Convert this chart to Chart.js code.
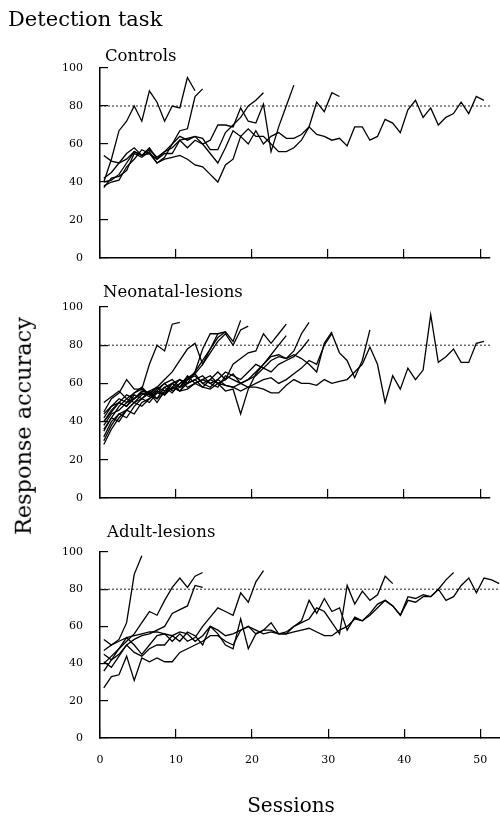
<!DOCTYPE html>
<html>
<head>
<meta charset="utf-8">
<script src="https://cdn.jsdelivr.net/npm/chart.js@4.4.1/dist/chart.umd.min.js"></script>
<style>
  body { margin: 0; background: #fff; }
  #wrap { position: relative; width: 500px; height: 818px; font-family: "DejaVu Serif", serif; color: #000; overflow: hidden; }
  canvas { position: absolute; left: 0; top: 0; }
  .t { position: absolute; white-space: nowrap; line-height: 1; }
</style>
</head>
<body>
<div id="wrap">
  <canvas id="controls" width="500" height="818"></canvas>
  <canvas id="neonatal" width="500" height="818"></canvas>
  <canvas id="adult" width="500" height="818"></canvas>

  <div class="t" style="left:8px;top:9px;font-size:21px">Detection task</div>
  <div class="t" style="left:105px;top:48px;font-size:16.5px">Controls</div>
  <div class="t" style="left:103px;top:284px;font-size:16.5px">Neonatal-lesions</div>
  <div class="t" style="left:107px;top:524px;font-size:16.5px">Adult-lesions</div>
  <div class="t" style="left:23px;top:426px;font-size:22.4px;transform:translate(-50%,-50%) rotate(-90deg)">Response accuracy</div>
  <div class="t" style="left:291px;top:805px;font-size:20px;transform:translate(-50%,-50%)">Sessions</div>
</div>

<script>
// each array = accuracy (%) per session for one animal, first value at session 0.5
const SESSION_OFFSET = 0.5;
const CRITERION = 80;

// Controls
const ctrlA = [40, 52, 67, 72, 80, 72, 88, 82, 72, 80, 79, 95, 88];
const ctrlB = [37, 42, 43, 46, 55, 53, 56, 50, 53, 60, 67, 68, 85, 89];
const ctrlC = [38, 40, 41, 48, 52, 57, 55, 52, 56, 60, 64, 62, 64, 63, 57, 57, 66, 70, 74, 80, 83, 87];
const ctrlD = [40, 41, 44, 50, 56, 54, 58, 52, 55, 55, 62, 58, 62, 60, 62, 70, 70, 69, 79, 72, 71, 81, 56, 69, 80, 91];
const ctrlE = [42, 45, 50, 55, 58, 54, 57, 53, 56, 58, 62, 63, 64, 60, 55, 50, 58, 67, 64, 68,
               64, 64, 60, 56, 56, 58, 62, 69, 82, 77, 87, 85];
const ctrlF = [54, 51, 50, 52, 56, 54, 55, 50, 52, 53, 54, 52, 49, 48, 44, 40, 49, 52, 64, 60,
               67, 60, 64, 66, 63, 63, 65, 69, 65, 64, 62, 63, 59, 69, 69, 62, 64, 73, 71, 66,
               78, 83, 74, 79, 70, 74, 76, 82, 76, 85, 83];

// Neonatal-lesions
const neoA = [45, 52, 55, 62, 57, 57, 70, 80, 77, 91, 92];
const neoB = [35, 42, 40, 46, 50, 52, 50, 55, 58, 55, 60, 62, 66, 78, 86, 86, 87, 82, 93];
const neoC = [30, 38, 44, 42, 48, 52, 55, 50, 56, 57, 60, 63, 65, 70, 76, 82, 86, 80, 88, 90];
const neoD = [40, 46, 50, 48, 54, 52, 56, 58, 54, 60, 58, 62, 64, 60, 62, 66, 62, 70, 73, 76, 77, 86, 81, 86, 91];
const neoE = [38, 44, 46, 50, 52, 55, 53, 57, 60, 56, 58, 60, 62, 58, 62, 60, 56, 57, 44, 57, 65, 70, 75, 80, 85];
const neoF = [42, 48, 52, 50, 55, 58, 54, 56, 60, 62, 58, 64, 60, 62, 60, 58, 64, 62, 60, 62, 66, 70, 74, 75, 73, 77, 86, 92];
const neoG = [32, 40, 44, 46, 50, 48, 52, 56, 54, 58, 56, 60, 62, 64, 60, 62, 59, 58, 60, 62, 64, 68, 66, 70, 72, 74, 78, 83];
const neoH = [36, 42, 48, 52, 50, 54, 56, 52, 58, 60, 56, 62, 65, 60, 58, 62, 66, 64, 62, 66,
              70, 68, 72, 74, 73, 75, 73, 70, 66, 81, 87];
const neoI = [44, 48, 50, 54, 52, 56, 55, 58, 56, 60, 62, 58, 60, 62, 64, 60, 62, 65, 60, 58,
              60, 62, 63, 60, 62, 65, 68, 72, 70, 80, 86, 76, 72, 63, 72, 88];
const neoJ = [40, 45, 50, 48, 52, 55, 54, 52, 55, 58, 56, 57, 60, 58, 57, 60, 59, 58, 56, 58,
              58, 57, 55, 55, 59, 62, 60, 60, 59, 62, 60, 61, 62, 66, 70, 79, 70, 50, 64, 57,
              68, 62, 67, 96, 71, 74, 78, 71, 71, 81, 82];
const neoK = [28, 36, 42, 46, 44, 50, 52, 55, 54, 58, 62, 60, 66, 72, 78, 84, 87];
const neoL = [50, 53, 56, 52, 55, 57, 54, 58, 62, 66, 72, 78, 81, 70, 78, 86];

// Adult-lesions
const adA = [47, 50, 53, 62, 88, 98];
const adB = [40, 44, 48, 52, 56, 62, 68, 66, 74, 81, 86, 81, 87, 89];
const adC = [36, 42, 45, 50, 53, 55, 56, 58, 60, 67, 69, 71, 82, 81];
const adD = [45, 42, 48, 54, 50, 45, 50, 55, 56, 52, 56, 52, 54, 60, 65, 70, 68, 66, 78, 73, 84, 90];
const adE = [27, 33, 34, 44, 31, 43, 41, 43, 41, 41, 46, 48, 50, 52, 55, 55, 52, 50, 58, 60,
             56, 58, 58, 56, 57, 60, 62, 64, 70, 68, 62, 56, 82, 72, 79, 74, 77, 87, 83];
const adF = [41, 38, 44, 50, 46, 44, 48, 50, 50, 55, 52, 57, 55, 50, 60, 56, 50, 48, 64, 48,
             56, 58, 62, 56, 56, 60, 63, 74, 67, 75, 68, 70, 58, 65, 63, 67, 72, 74, 71, 66,
             74, 73, 76, 76, 80, 74, 76, 82, 86, 78, 86, 85, 83];
const adG = [53, 50, 52, 54, 55, 56, 57, 57, 56, 55, 57, 56, 52, 55, 60, 58, 55, 56, 58, 60,
             58, 56, 57, 56, 56, 57, 58, 59, 57, 55, 55, 58, 60, 64, 63, 66, 70, 74, 71, 66,
             76, 75, 77, 76, 80, 85, 89];

const FONT = { family: 'DejaVu Serif', size: 11 };

function lineSet(vals) {
  return {
    data: vals.map((v, i) => ({ x: i + SESSION_OFFSET, y: v })),
    borderColor: '#000',
    borderWidth: 1.3,
    pointRadius: 0,
    fill: false,
    tension: 0
  };
}

function makeChart(id, lines, pad, xMax, showX) {
  const datasets = lines.map(lineSet);
  datasets.push({
    data: [{ x: 0, y: CRITERION }, { x: xMax, y: CRITERION }],
    borderColor: '#222',
    borderWidth: 1,
    borderDash: [2, 2],
    pointRadius: 0
  });
  return new Chart(document.getElementById(id), {
    type: 'line',
    data: { datasets },
    options: {
      responsive: false,
      animation: false,
      devicePixelRatio: 1,
      layout: { padding: pad },
      plugins: { legend: { display: false }, tooltip: { enabled: false } },
      scales: {
        x: {
          type: 'linear',
          min: 0,
          max: xMax,
          border: { color: '#000', width: 1.5 },
          grid: { drawOnChartArea: false, tickLength: -9, color: '#000', lineWidth: 1.2 },
          ticks: { stepSize: 10, includeBounds: false, display: showX, font: FONT, color: '#000', padding: 25, maxRotation: 0 },
          afterFit: s => {
            s.height = showX ? 30 : 4;
            s.paddingLeft = 0;
            s.paddingRight = 0;
          }
        },
        y: {
          min: 0,
          max: 100,
          border: { color: '#000', width: 1.5 },
          grid: { drawOnChartArea: false, tickLength: -8, color: '#000', lineWidth: 1.2 },
          ticks: { stepSize: 20, font: FONT, color: '#000', padding: 25 },
          afterFit: s => { s.width = 100; }
        }
      }
    }
  });
}

makeChart('controls', [ctrlA, ctrlB, ctrlC, ctrlD, ctrlE, ctrlF],
  { top: 68, bottom: 556, left: 0, right: 10 }, 51.3, false);
makeChart('neonatal', [neoA, neoB, neoC, neoD, neoE, neoF, neoG, neoH, neoI, neoJ, neoK, neoL],
  { top: 307, bottom: 316, left: 0, right: 10 }, 51.3, false);
makeChart('adult', [adA, adB, adC, adD, adE, adF, adG],
  { top: 552, bottom: 50, left: 0, right: 0 }, 52.6, true);
</script>
</body>
</html>
